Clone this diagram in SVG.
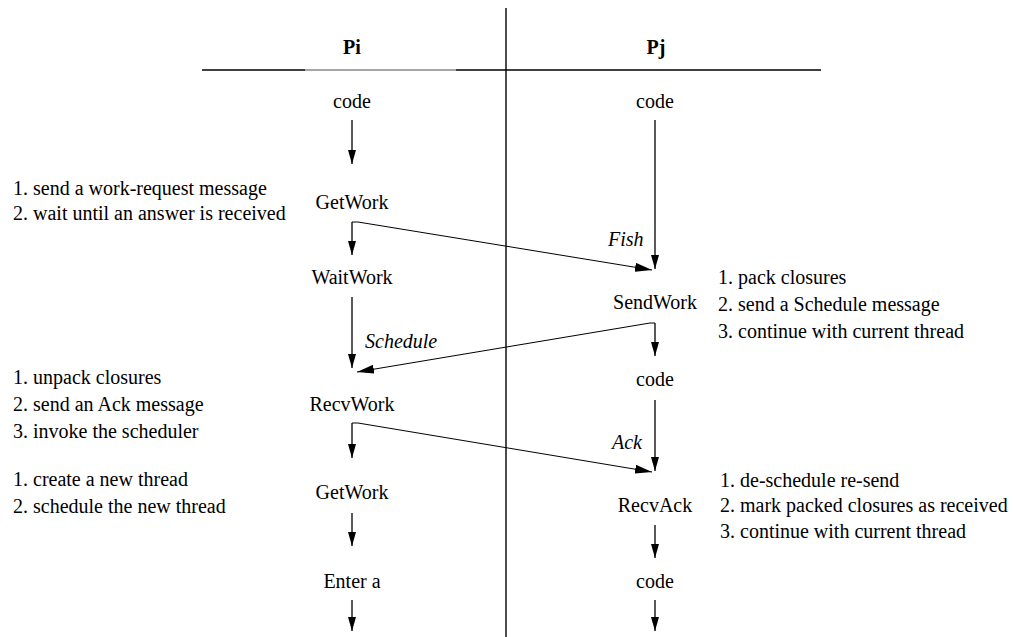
<svg xmlns="http://www.w3.org/2000/svg" width="1013" height="637" viewBox="0 0 1013 637" font-family="'Liberation Serif', 'DejaVu Serif', serif">
  <style>
    text { font-family: 'Liberation Serif', 'DejaVu Serif', serif; font-size: 20px; fill: #000; }
    .node { text-anchor: middle; }
    .head { font-weight: bold; text-anchor: middle; }
    .msg { font-style: italic; }
    .step { text-anchor: start; }
    .flow { stroke: #000; stroke-width: 1.3; fill: none; marker-end: url(#arrow); }
    .cross { stroke: #000; stroke-width: 1; fill: none; marker-end: url(#arrowWide); }
    .rule { stroke: #000; stroke-width: 1.4; }
  </style>
  <defs>
    <marker id="arrow" markerUnits="userSpaceOnUse" markerWidth="14" markerHeight="8" refX="14" refY="4" orient="auto">
      <path d="M0,0 L14,4 L0,8 z" fill="#000"/>
    </marker>
    <marker id="arrowWide" markerUnits="userSpaceOnUse" markerWidth="17" markerHeight="9" refX="17" refY="4.5" orient="auto">
      <path d="M0,0 L17,4.5 L0,9 z" fill="#000"/>
    </marker>
  </defs>

  <rect width="1013" height="637" fill="#fff"/>

  <!-- column header and separator -->
  <g id="frame">
    <line class="rule" x1="506" y1="8" x2="506" y2="637"/>
    <line x1="202" y1="70" x2="305" y2="70" stroke="#000" stroke-width="1.3"/>
    <line x1="305" y1="70" x2="456" y2="70" stroke="#888" stroke-width="1.3"/>
    <line x1="456" y1="70" x2="821" y2="70" stroke="#000" stroke-width="1.3"/>
    <text class="head" x="352" y="54">Pi</text>
    <text class="head" x="656" y="54">Pj</text>
  </g>

  <!-- Pi states -->
  <g id="pi-code"><text class="node" x="352" y="108">code</text></g>
  <g id="pi-getwork"><text class="node" x="352" y="209">GetWork</text></g>
  <g id="pi-waitwork"><text class="node" x="352" y="284">WaitWork</text></g>
  <g id="pi-recvwork"><text class="node" x="352" y="411">RecvWork</text></g>
  <g id="pi-getwork2"><text class="node" x="352" y="499">GetWork</text></g>
  <g id="pi-enter"><text class="node" x="352" y="588">Enter a</text></g>

  <!-- Pj states -->
  <g id="pj-code"><text class="node" x="655" y="108">code</text></g>
  <g id="pj-sendwork"><text class="node" x="655" y="309">SendWork</text></g>
  <g id="pj-code2"><text class="node" x="655" y="386">code</text></g>
  <g id="pj-recvack"><text class="node" x="655" y="512">RecvAck</text></g>
  <g id="pj-code3"><text class="node" x="655" y="588">code</text></g>

  <!-- step descriptions -->
  <g id="note-getwork">
    <text class="step" x="13" y="195">1. send a work-request message</text>
    <text class="step" x="13" y="220">2. wait until an answer is received</text>
  </g>
  <g id="note-sendwork">
    <text class="step" x="718" y="284">1. pack closures</text>
    <text class="step" x="718" y="311">2. send a Schedule message</text>
    <text class="step" x="718" y="338">3. continue with current thread</text>
  </g>
  <g id="note-recvwork">
    <text class="step" x="13" y="384">1. unpack closures</text>
    <text class="step" x="13" y="411">2. send an Ack message</text>
    <text class="step" x="13" y="438">3. invoke the scheduler</text>
  </g>
  <g id="note-getwork2">
    <text class="step" x="13" y="486">1. create a new thread</text>
    <text class="step" x="13" y="513">2. schedule the new thread</text>
  </g>
  <g id="note-recvack">
    <text class="step" x="720" y="487">1. de-schedule re-send</text>
    <text class="step" x="720" y="512">2. mark packed closures as received</text>
    <text class="step" x="720" y="538">3. continue with current thread</text>
  </g>

  <!-- connectors -->
  <g id="connectors">
    <!-- Pi control flow -->
    <path class="flow" d="M352,120 L352,164"/>
    <path class="flow" d="M352,222 L352,255"/>
    <path class="flow" d="M352,297 L352,368"/>
    <path class="flow" d="M352,423 L352,458"/>
    <path class="flow" d="M352,513 L352,546"/>
    <path class="flow" d="M352,600 L352,631"/>
    <!-- Pj control flow -->
    <path class="flow" d="M655,120 L655,269"/>
    <path class="flow" d="M655,323 L655,356"/>
    <path class="flow" d="M655,400 L655,471"/>
    <path class="flow" d="M655,525 L655,558"/>
    <path class="flow" d="M655,600 L655,631"/>
    <!-- messages between processors -->
    <path class="cross" d="M352,222 L358,222 L652,270"/>
    <path class="cross" d="M655,323 L650,323 L357,372"/>
    <path class="cross" d="M352,423 L358,423 L652,472"/>
    <text class="msg" x="608" y="246">Fish</text>
    <text class="msg" x="365" y="348">Schedule</text>
    <text class="msg" x="612" y="449">Ack</text>
  </g>
</svg>
